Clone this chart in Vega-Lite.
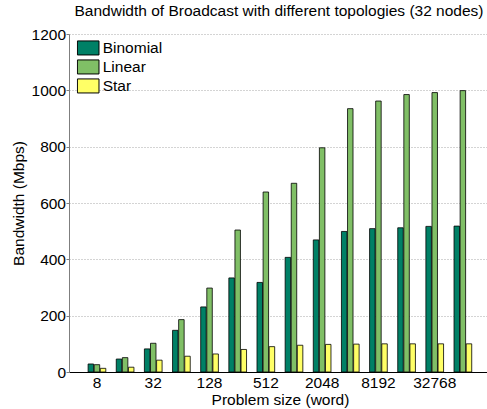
{
  "$schema": "https://vega.github.io/schema/vega-lite/v6.json",
  "autosize": "none",
  "width": 418,
  "height": 338,
  "padding": {"left": 69, "top": 34, "right": 0, "bottom": 37},
  "background": "white",
  "title": {
    "text": "Bandwidth of Broadcast with different topologies (32 nodes)",
    "anchor": "middle",
    "frame": "group",
    "dx": 1,
    "dy": 17,
    "baseline": "bottom",
    "offset": 10,
    "font": "Liberation Sans",
    "fontSize": 15.5,
    "fontWeight": "normal",
    "color": "black"
  },
  "data": {
    "values": [
      {"size": "8", "topology": "Binomial", "bw": 28.5},
      {"size": "8", "topology": "Linear", "bw": 26},
      {"size": "8", "topology": "Star", "bw": 13},
      {"size": "16", "topology": "Binomial", "bw": 46},
      {"size": "16", "topology": "Linear", "bw": 51},
      {"size": "16", "topology": "Star", "bw": 17},
      {"size": "32", "topology": "Binomial", "bw": 82},
      {"size": "32", "topology": "Linear", "bw": 102},
      {"size": "32", "topology": "Star", "bw": 42},
      {"size": "64", "topology": "Binomial", "bw": 148},
      {"size": "64", "topology": "Linear", "bw": 186},
      {"size": "64", "topology": "Star", "bw": 56},
      {"size": "128", "topology": "Binomial", "bw": 231},
      {"size": "128", "topology": "Linear", "bw": 298},
      {"size": "128", "topology": "Star", "bw": 64},
      {"size": "256", "topology": "Binomial", "bw": 334},
      {"size": "256", "topology": "Linear", "bw": 504},
      {"size": "256", "topology": "Star", "bw": 80},
      {"size": "512", "topology": "Binomial", "bw": 318},
      {"size": "512", "topology": "Linear", "bw": 639},
      {"size": "512", "topology": "Star", "bw": 90},
      {"size": "1024", "topology": "Binomial", "bw": 407},
      {"size": "1024", "topology": "Linear", "bw": 670},
      {"size": "1024", "topology": "Star", "bw": 95},
      {"size": "2048", "topology": "Binomial", "bw": 469},
      {"size": "2048", "topology": "Linear", "bw": 796},
      {"size": "2048", "topology": "Star", "bw": 98},
      {"size": "4096", "topology": "Binomial", "bw": 499},
      {"size": "4096", "topology": "Linear", "bw": 935},
      {"size": "4096", "topology": "Star", "bw": 99},
      {"size": "8192", "topology": "Binomial", "bw": 509},
      {"size": "8192", "topology": "Linear", "bw": 962},
      {"size": "8192", "topology": "Star", "bw": 100},
      {"size": "16384", "topology": "Binomial", "bw": 512},
      {"size": "16384", "topology": "Linear", "bw": 985},
      {"size": "16384", "topology": "Star", "bw": 100},
      {"size": "32768", "topology": "Binomial", "bw": 517},
      {"size": "32768", "topology": "Linear", "bw": 992},
      {"size": "32768", "topology": "Star", "bw": 100},
      {"size": "65536", "topology": "Binomial", "bw": 518},
      {"size": "65536", "topology": "Linear", "bw": 999},
      {"size": "65536", "topology": "Star", "bw": 100}
    ]
  },
  "mark": {"type": "bar", "stroke": "#000000", "strokeWidth": 0.8},
  "encoding": {
    "x": {
      "field": "size",
      "type": "nominal",
      "scale": {
        "domain": ["8", "16", "32", "64", "128", "256", "512", "1024", "2048", "4096", "8192", "16384", "32768", "65536"],
        "paddingInner": 0,
        "paddingOuter": 0.425,
        "align": 0.58
      },
      "axis": {
        "title": "Problem size (word)",
        "values": ["8", "32", "128", "512", "2048", "8192", "32768"],
        "labelAngle": 0,
        "ticks": false,
        "tickSize": 0,
        "domainColor": "#000000",
        "domainWidth": 1,
        "labelFont": "Liberation Sans",
        "labelFontSize": 15.5,
        "labelColor": "#000000",
        "labelBaseline": "alphabetic",
        "labelPadding": 15.5,
        "titleFont": "Liberation Sans",
        "titleFontSize": 15.5,
        "titleFontWeight": "normal",
        "titleColor": "#000000",
        "titleBaseline": "alphabetic",
        "titleAlign": "center",
        "titleAnchor": null,
        "titleX": 211,
        "titleY": 32,
        "grid": false
      }
    },
    "xOffset": {
      "field": "topology",
      "type": "nominal",
      "scale": {"paddingInner": 0.1, "paddingOuter": 0.857}
    },
    "y": {
      "field": "bw",
      "type": "quantitative",
      "scale": {"domain": [0, 1200], "nice": false},
      "axis": {
        "title": "Bandwidth (Mbps)",
        "values": [0, 200, 400, 600, 800, 1000, 1200],
        "format": "d",
        "grid": true,
        "gridColor": "#a8a8a8",
        "gridDash": [1, 2],
        "gridWidth": 1,
        "domainColor": "#7f7f7f",
        "domainWidth": 1,
        "tickColor": "#7f7f7f",
        "tickSize": 3,
        "labelPadding": 0.5,
        "labelFont": "Liberation Sans",
        "labelFontSize": 15.5,
        "labelColor": "#000000",
        "labelBaseline": "middle",
        "titleFont": "Liberation Sans",
        "titleFontSize": 15.5,
        "titleFontWeight": "normal",
        "titleColor": "#000000",
        "titleBaseline": "alphabetic",
        "titleAlign": "center",
        "titleAnchor": null,
        "titleAngle": -90,
        "titleX": -46,
        "titleY": 169
      }
    },
    "fill": {
      "field": "topology",
      "type": "nominal",
      "scale": {
        "domain": ["Binomial", "Linear", "Star"],
        "range": ["#008066", "#80bf66", "#ffff66"]
      },
      "legend": {
        "title": null,
        "orient": "none",
        "legendX": 7.7,
        "legendY": 4.6,
        "padding": 0,
        "symbolType": "M-1,-0.65L1,-0.65L1,0.65L-1,0.65Z",
        "symbolSize": 466,
        "symbolStrokeColor": "#000000",
        "symbolStrokeWidth": 1,
        "symbolOpacity": 1,
        "clipHeight": 18.7,
        "rowPadding": 0,
        "labelOffset": 3,
        "labelFont": "Liberation Sans",
        "labelFontSize": 15.5,
        "labelColor": "#000000",
        "labelBaseline": "middle"
      }
    }
  },
  "config": {
    "view": {"stroke": null}
  }
}
